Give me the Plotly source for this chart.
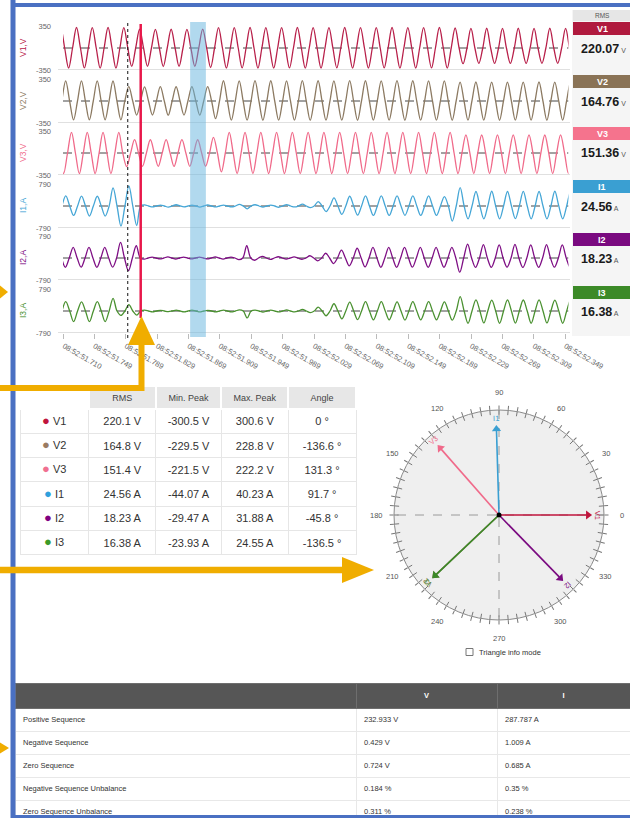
import math
import plotly.graph_objects as go

W, H = 630, 818
FONT = "Liberation Sans, Arial, sans-serif"

# ---------------- waveform data ----------------
tick_labels = ["08:52:51.710", "08:52:51.749", "08:52:51.789", "08:52:51.829", "08:52:51.869",
               "08:52:51.909", "08:52:51.949", "08:52:51.989", "08:52:52.029", "08:52:52.069",
               "08:52:52.109", "08:52:52.149", "08:52:52.189", "08:52:52.229", "08:52:52.269",
               "08:52:52.309", "08:52:52.349"]
tick_ms = [0, 39, 79, 119, 159, 199, 239, 279, 319, 359, 399, 439, 479, 519, 559, 599, 639]
period_ms = 20.1
cursor_ms = 81.5
fault_ms = 98
band_ms = [161, 181]

series_names = ["V1", "V2", "V3", "I1", "I2", "I3"]
series_units = ["V", "V", "V", "A", "A", "A"]
series_colors = ["#b8204a", "#8c7a62", "#f06a8a", "#45a6d6", "#7e0e84", "#4a9130"]
box_colors = ["#b01a3e", "#8a7356", "#f5738d", "#3a9fd2", "#7a0a80", "#3c8a28"]
axis_limits = [350, 350, 350, 790, 790, 790]
phase_ms = [-3.9, -17.7, -10.3, -17.6, -8.1, -17.6]

v1_pos = [325, 326, 324, 326, 324, 298, 296, 298, 296, 300,
          325, 324, 326, 325, 324, 326, 325, 324, 326, 325, 324, 326, 325, 324, 326,
          318, 312, 314, 312, 314, 312, 314, 312, 314]
v1_neg = [-318, -317, -319, -318, -293, -292, -294, -293, -292, -310,
          -318, -317, -319, -318, -317, -319, -318, -317, -319, -318, -317, -319, -318, -317, -319,
          -250, -245, -246, -244, -246, -245, -244, -246, -245]
v2_pos = [320, 321, 319, 320, 318, 228, 226, 229, 227, 228, 230,
          322, 321, 323, 322, 321, 323, 322, 321, 323, 322, 321, 323, 322, 321, 320,
          300, 302, 300, 301, 300, 302, 300, 301]
v2_neg = [-300, -301, -299, -300, -301, -225, -223, -226, -224, -225, -280,
          -305, -304, -306, -305, -304, -306, -305, -304, -306, -305, -304, -306,
          -305, -304, -306, -305, -304, -306, -305, -304, -306, -305, -304]
v3_pos = [328, 327, 329, 328, 327, 212, 211, 213, 212, 211, 250,
          328, 327, 329, 328, 327, 329, 328, 327, 329, 328, 327, 329, 328, 327, 329,
          288, 286, 289, 287, 288, 286, 289, 287]
v3_neg = [-329, -329, -328, -329, -215, -212, -211, -213, -212, -211, -300,
          -328, -327, -329, -328, -327, -329, -328, -327, -329, -328, -327, -329,
          -328, -327, -329, -328, -327, -329, -328, -327, -329, -328, -327]
i1_pos = [340, 360, 355, 350, 650, 720, 40, 30, 45, 35, 40, 30, 60, 45, 35, 50, 70,
          160, 290, 350, 365, 365, 360, 365, 365, 340, 660, 520, 530, 520, 525, 520, 530, 520]
i1_neg = [-360, -340, -360, -360, -720, -700, -30, -40, -30, -40, -35, -30, -100, -40,
          -45, -35, -60, -200, -300, -330, -340, -340, -335, -340, -340, -540,
          -460, -465, -460, -455, -460, -465, -460, -460]
i2_pos = [385, 385, 380, 385, 560, 440, 30, 40, 35, 30, 40, 35, 440, 60, 45, 40, 80,
          170, 280, 350, 385, 385, 380, 385, 385, 385, 500, 480, 470, 490, 470, 480, 470, 480]
i2_neg = [-335, -330, -335, -330, -455, -40, -30, -40, -35, -30, -40, -60, -80, -50,
          -40, -45, -100, -200, -280, -320, -335, -335, -330, -335, -335, -510,
          -340, -335, -330, -340, -335, -330, -335, -335]
i3_pos = [335, 335, 330, 335, 455, 230, 30, 25, 35, 30, 25, 30, 40, 35, 30, 40, 60,
          140, 260, 320, 335, 335, 330, 335, 335, 330, 515, 400, 390, 400, 395, 400, 390, 400]
i3_neg = [-385, -380, -385, -380, -160, -150, -30, -25, -30, -35, -30, -30, -250, -40,
          -30, -35, -60, -170, -280, -310, -320, -320, -325, -320, -320, -330,
          -440, -430, -440, -435, -440, -430, -440, -440]
wave_pos = [v1_pos, v2_pos, v3_pos, i1_pos, i2_pos, i3_pos]
wave_neg = [v1_neg, v2_neg, v3_neg, i1_neg, i2_neg, i3_neg]

rms_values = ["220.07", "164.76", "151.36", "24.56", "18.23", "16.38"]

# ---------------- summary table ----------------
tbl_rms = ["220.1 V", "164.8 V", "151.4 V", "24.56 A", "18.23 A", "16.38 A"]
tbl_min = ["-300.5 V", "-229.5 V", "-221.5 V", "-44.07 A", "-29.47 A", "-23.93 A"]
tbl_max = ["300.6 V", "228.8 V", "222.2 V", "40.23 A", "31.88 A", "24.55 A"]
tbl_angle = ["0 °", "-136.6 °", "131.3 °", "91.7 °", "-45.8 °", "-136.5 °"]
dot_colors = ["#c0143c", "#9a7b62", "#f07090", "#2fa0dc", "#800080", "#3c9a28"]

# ---------------- phasors ----------------
phasor_angles = [0, -136.6, 131.3, 91.7, -45.8, -136.5]
phasor_len = [0.87, 0.86, 0.87, 0.84, 0.86, 0.86]
angle_labels = [0, 30, 60, 90, 120, 150, 180, 210, 240, 270, 300, 330]

# ---------------- sequence table ----------------
seq_labels = ["Positive Sequence", "Negative Sequence", "Zero Sequence",
              "Negative Sequence Unbalance", "Zero Sequence Unbalance"]
seq_v = ["232.933 V", "0.429 V", "0.724 V", "0.184 %", "0.311 %"]
seq_i = ["287.787 A", "1.009 A", "0.685 A", "0.35 %", "0.238 %"]


def px(x):
    return x / W


def py(y):
    return 1 - y / H


def build(phase, pos, neg):
    q = period_ms / 4
    t, y = [], []
    for k, (p, n) in enumerate(zip(pos, neg)):
        tp = phase + period_ms * k
        t += [tp - q, tp, tp + q, tp + 2 * q]
        y += [0, p, 0, n]
    t.append(phase + period_ms * len(pos) - q)
    y.append(0)
    return t, y


fig = go.Figure()
shapes, annotations = [], []
layout = {}


def ann(text, x, y, size, color, xanchor="center", **kw):
    d = dict(text=text, x=px(x), y=py(y), xref="paper", yref="paper", showarrow=False,
             xanchor=xanchor, yanchor="middle", font=dict(size=size, color=color))
    d.update(kw)
    annotations.append(d)


panel_top = [26, 79, 131, 184, 236, 289]
panel_h = 44
X0, X1 = 63, 568.5

for i in range(6):
    yname = "y" if i == 0 else f"y{i + 1}"
    lname = "yaxis" if i == 0 else f"yaxis{i + 1}"
    R = axis_limits[i]
    t, y = build(phase_ms[i], wave_pos[i], wave_neg[i])
    fig.add_trace(go.Scatter(x=t, y=y, xaxis="x", yaxis=yname, mode="lines",
                             line=dict(color=series_colors[i], width=1.3, shape="spline", smoothing=1),
                             hoverinfo="skip", showlegend=False))
    layout[lname] = dict(domain=[py(panel_top[i] + panel_h), py(panel_top[i])], range=[-R, R],
                         tickmode="array", tickvals=[-R, R], ticktext=[f"-{R}", f"{R}"],
                         showgrid=False, zeroline=False, ticks="", ticklabelstandoff=11,
                         tickfont=dict(size=7.5, color="#666"), anchor="x", fixedrange=True)
    shapes.append(dict(type="line", xref="paper", yref=yname, x0=px(58), x1=px(570), y0=-R, y1=-R,
                       line=dict(color="#e0e0e0", width=2), layer="below"))
    shapes.append(dict(type="line", xref="x", yref=yname, x0=-1, x1=643, y0=0, y1=0,
                       line=dict(color="#444", width=1, dash="dash"), layer="below"))
    ann(f"{series_names[i]},{series_units[i]}", 23, panel_top[i] + panel_h / 2, 8.5,
        series_colors[i], textangle=-90)

layout["xaxis"] = dict(domain=[px(X0), px(X1)], range=[-1, 643], anchor="y6", tickmode="array",
                       tickvals=tick_ms, ticktext=tick_labels, tickangle=30, ticks="outside",
                       ticklen=5, tickcolor="#bbb", tickfont=dict(size=7.5, color="#666"),
                       showgrid=False, zeroline=False, showline=False, fixedrange=True)

# cursor, fault and band markers
shapes.append(dict(type="line", xref="x", yref="paper", x0=cursor_ms, x1=cursor_ms,
                   y0=py(338), y1=py(20), line=dict(color="#111", width=1, dash="dot")))
shapes.append(dict(type="rect", xref="x", yref="paper", x0=band_ms[0], x1=band_ms[1],
                   y0=py(337), y1=py(22), fillcolor="rgba(100,180,222,0.5)", line=dict(width=0)))
shapes.append(dict(type="line", xref="x", yref="paper", x0=fault_ms, x1=fault_ms,
                   y0=py(318), y1=py(24), line=dict(color="#e8174a", width=2.5)))

# RMS column
shapes.append(dict(type="rect", xref="paper", yref="paper", x0=px(572), x1=px(630), y0=py(336),
                   y1=py(10), fillcolor="#f5f5f5", line=dict(width=0), layer="below"))
shapes.append(dict(type="rect", xref="paper", yref="paper", x0=px(573), x1=px(630), y0=py(21),
                   y1=py(10), fillcolor="#e6e6e6", line=dict(width=0), layer="below"))
ann("RMS", 602, 15.5, 6.5, "#555")
box_top = [22, 75, 127, 180, 233, 286]
for i in range(6):
    shapes.append(dict(type="rect", xref="paper", yref="paper", x0=px(573), x1=px(630),
                       y0=py(box_top[i] + 13), y1=py(box_top[i]), fillcolor=box_colors[i],
                       line=dict(width=0), layer="below"))
    ann(f"<b>{series_names[i]}</b>", 602, box_top[i] + 6.8, 9, "white")
    ann(f"<b>{rms_values[i]}</b><span style='font-size:7px;color:#555'> {series_units[i]}</span>",
        579, panel_top[i] + panel_h / 2 + 0.5, 12.5, "#1a1a1a", xanchor="left")

# summary table (label column drawn with coloured dots on top)
T_TOP, T_HEAD, T_ROW = 386, 23, 24.3
fig.add_trace(go.Table(
    domain=dict(x=[px(20), px(356)], y=[py(T_TOP + T_HEAD + 6 * T_ROW + 2), py(T_TOP)]),
    columnwidth=[68, 66, 65, 66, 67],
    header=dict(values=["", "RMS", "Min. Peak", "Max. Peak", "Angle"],
                fill_color=["white", "#e7e7e7", "#e7e7e7", "#e7e7e7", "#e7e7e7"],
                line=dict(color="white", width=2), align="center", height=T_HEAD,
                font=dict(size=9, color="#444", family=FONT)),
    cells=dict(values=[[""] * 6, tbl_rms, tbl_min, tbl_max, tbl_angle],
               fill_color="white", line=dict(color="#e6e6e6", width=1), align="center",
               height=T_ROW, font=dict(size=11, color="#333", family=FONT))))
for i in range(6):
    ann(f"<span style='color:{dot_colors[i]};font-size:13px'>●</span> {series_names[i]}", 54,
        T_TOP + T_HEAD + T_ROW * (i + 0.5) - 1, 11, "#333")

# sequence table
fig.add_trace(go.Table(
    domain=dict(x=[px(15), px(630)], y=[py(818), py(683)]),
    columnwidth=[341, 141, 133],
    header=dict(values=["", "<b>V</b>", "<b>I</b>"], fill_color="#565656",
                line=dict(color="#6e6e6e", width=1), align=["left", "center", "center"], height=23,
                font=dict(size=7.5, color="white", family=FONT)),
    cells=dict(values=[seq_labels, seq_v, seq_i], fill_color="white",
               line=dict(color="#e8e8e8", width=1), align="left", height=23,
               font=dict(size=7.5, color="#333", family=FONT))))

# phasor diagram
PCX, PCY, PR = 499, 515, 105
ang_ticks = list(range(0, 360, 5))
inner_r, inner_t = [], []
for a in ang_ticks:
    inner_r += [0.955, 1.0, None]
    inner_t += [a, a, None]
fig.add_trace(go.Scatterpolar(r=inner_r, theta=inner_t, mode="lines",
                              line=dict(color="#777", width=1), hoverinfo="skip", showlegend=False))
fig.add_trace(go.Scatterpolar(r=[1, 0, 1], theta=[0, 0, 180], mode="lines",
                              line=dict(color="#9a9a9a", width=1, dash="dash"),
                              hoverinfo="skip", showlegend=False))
fig.add_trace(go.Scatterpolar(r=[1, 0, 1], theta=[90, 90, 270], mode="lines",
                              line=dict(color="#9a9a9a", width=1, dash="dash"),
                              hoverinfo="skip", showlegend=False))
pcolors = ["#c0143c", "#8a7356", "#f06a8a", "#3a9fd2", "#7a0a80", "#3c8a28"]
for i in range(6):
    a, L = phasor_angles[i], phasor_len[i]
    fig.add_trace(go.Scatterpolar(r=[0, L * 0.96], theta=[a, a], mode="lines",
                                  line=dict(color=pcolors[i], width=1.6),
                                  hoverinfo="skip", showlegend=False))
    fig.add_trace(go.Scatterpolar(r=[L * 0.975], theta=[a], mode="markers",
                                  marker=dict(symbol="triangle-up", size=8, color=pcolors[i],
                                              angle=90 - a),
                                  hoverinfo="skip", showlegend=False))
    rr = (L + 0.075) * PR
    ann(series_names[i], PCX + rr * math.cos(math.radians(a)), PCY - rr * math.sin(math.radians(a)),
        7.5, pcolors[i], textangle=90 - a)
fig.add_trace(go.Scatterpolar(r=[0], theta=[0], mode="markers", marker=dict(color="black", size=5),
                              hoverinfo="skip", showlegend=False))
for a in angle_labels:
    ann(str(a), PCX + 123 * math.cos(math.radians(a)), PCY - 123 * math.sin(math.radians(a)),
        7.5, "#555")
layout["polar"] = dict(
    domain=dict(x=[px(PCX - PR), px(PCX + PR)], y=[py(PCY + PR), py(PCY - PR)]),
    bgcolor="#efefef",
    radialaxis=dict(visible=False, range=[0, 1]),
    angularaxis=dict(tickmode="array", tickvals=ang_ticks, showticklabels=False,
                     ticks="outside", ticklen=4, tickcolor="#777", linecolor="#8a8a8a",
                     linewidth=1, showgrid=False, rotation=0, direction="counterclockwise"))

# "Triangle info mode" checkbox
shapes.append(dict(type="rect", xref="paper", yref="paper", x0=px(466), x1=px(473), y0=py(655.5),
                   y1=py(648.5), fillcolor="white", line=dict(color="#777", width=1)))
ann("Triangle info mode", 477, 652, 7.5, "#333", xanchor="left")

# blue frame
BLUE = "#4a70c2"
shapes.append(dict(type="line", xref="paper", yref="paper", x0=px(13), x1=px(13), y0=py(818), y1=py(0),
                   line=dict(color=BLUE, width=5)))
shapes.append(dict(type="line", xref="paper", yref="paper", x0=px(11), x1=px(630), y0=py(5), y1=py(5),
                   line=dict(color=BLUE, width=4)))
shapes.append(dict(type="line", xref="paper", yref="paper", x0=px(11), x1=px(630), y0=py(816.5),
                   y1=py(816.5), line=dict(color=BLUE, width=3)))

# orange arrows
ORANGE = "#f0ad00"


def path(points, close=False):
    s = "M " + " L ".join(f"{px(x)},{py(y)}" for x, y in points)
    return s + (" Z" if close else "")


shapes.append(dict(type="path", xref="paper", yref="paper",
                   path=path([(0, 388), (141.5, 388), (141.5, 343)]),
                   line=dict(color=ORANGE, width=6)))
shapes.append(dict(type="path", xref="paper", yref="paper",
                   path=path([(128, 345), (155, 345), (141.5, 316)], True),
                   fillcolor=ORANGE, line=dict(width=0)))
shapes.append(dict(type="path", xref="paper", yref="paper",
                   path=path([(0, 285.5), (8, 292), (0, 298.5)], True),
                   fillcolor=ORANGE, line=dict(width=0)))
shapes.append(dict(type="path", xref="paper", yref="paper",
                   path=path([(0, 570), (344, 570)]), line=dict(color=ORANGE, width=6.5)))
shapes.append(dict(type="path", xref="paper", yref="paper",
                   path=path([(342, 557), (374, 570), (342, 583)], True),
                   fillcolor=ORANGE, line=dict(width=0)))
shapes.append(dict(type="path", xref="paper", yref="paper",
                   path=path([(0, 742.5), (9, 748), (0, 753.5)], True),
                   fillcolor=ORANGE, line=dict(width=0)))

fig.update_layout(width=W, height=H, margin=dict(l=0, r=0, t=0, b=0, pad=0, autoexpand=False),
                  autosize=False, paper_bgcolor="white", plot_bgcolor="rgba(0,0,0,0)",
                  showlegend=False, font=dict(family=FONT, color="#333"), shapes=shapes,
                  annotations=annotations, **layout)
fig.write_html("out.html", config={"responsive": False, "displayModeBar": False},
               post_script="document.body.style.margin='0';document.body.style.overflow='hidden';")
